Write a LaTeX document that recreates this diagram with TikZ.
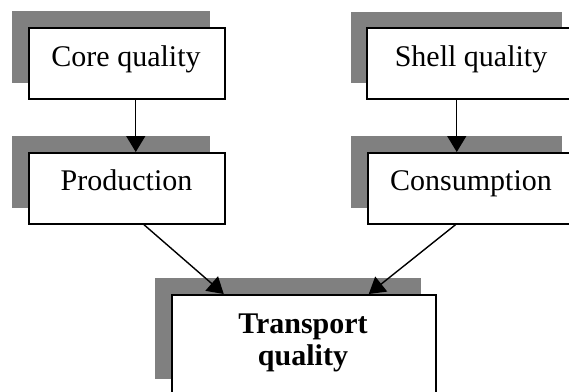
\documentclass[tikz,border=0pt]{standalone}
\usepackage{fontspec}
\setmainfont{Liberation Serif}
\usetikzlibrary{arrows.meta}
\tikzset{
  shadowbox/.style={fill=black!50, draw=none, inner sep=0, anchor=north west},
  box/.style={draw=black, fill=white, line width=1.5pt, inner sep=0, anchor=north west},
  lbl/.style={font=\fontsize{30}{32.5}\selectfont, inner sep=0, anchor=base},
  arr/.style={-{Triangle[width=19pt,length=16pt]}, line width=1.4pt}
}
\begin{document}
\begin{tikzpicture}[x=1pt,y=-1pt]
\useasboundingbox (0,0) rectangle (569,391);
\fill[white] (0,0) rectangle (569,391);
\clip (0,0) rectangle (569,391);
% shadows
\node[shadowbox, minimum width=198, minimum height=72] (coreS) at (12,11) {};
\node[shadowbox, minimum width=198, minimum height=72] (prodS) at (12,136) {};
\node[shadowbox, minimum width=211, minimum height=71] (shellS) at (351,12) {};
\node[shadowbox, minimum width=211, minimum height=72] (consS) at (351,136) {};
\node[shadowbox, minimum width=266, minimum height=101] (transS) at (155,278) {};
% boxes
\node[box, minimum width=196, minimum height=71] (core) at (28,27) {};
\node[box, minimum width=196, minimum height=71] (prod) at (28,152) {};
\node[box, minimum width=212, minimum height=71] (shell) at (366,27) {};
\node[box, minimum width=211, minimum height=71] (cons) at (367,152) {};
\node[box, minimum width=264, minimum height=101] (trans) at (171,294) {};
% labels
\node[lbl] (coreT) at (126,66) {Core quality};
\node[lbl] (prodT) at (126.5,190) {Production};
\node[lbl] (shellT) at (471,66) {Shell quality};
\node[lbl] (consT) at (471,190) {Consumption};
\node[lbl, font=\fontsize{30}{32.5}\selectfont\bfseries] (transT1) at (303,333) {Transport};
\node[lbl, font=\fontsize{30}{32.5}\selectfont\bfseries] (transT2) at (303,365.5) {quality};
% connectors
\draw[arr] ([xshift=9pt]core.south) -- ([xshift=9pt]prod.north);
\draw[arr] ([xshift=-16pt]shell.south) -- ([xshift=-16.5pt]cons.north);
\draw[arr] ([xshift=17pt]prod.south) -- ([xshift=-80pt]trans.north);
\draw[arr] ([xshift=-17.5pt]cons.south) -- ([xshift=65pt]trans.north);
\end{tikzpicture}
\end{document}
